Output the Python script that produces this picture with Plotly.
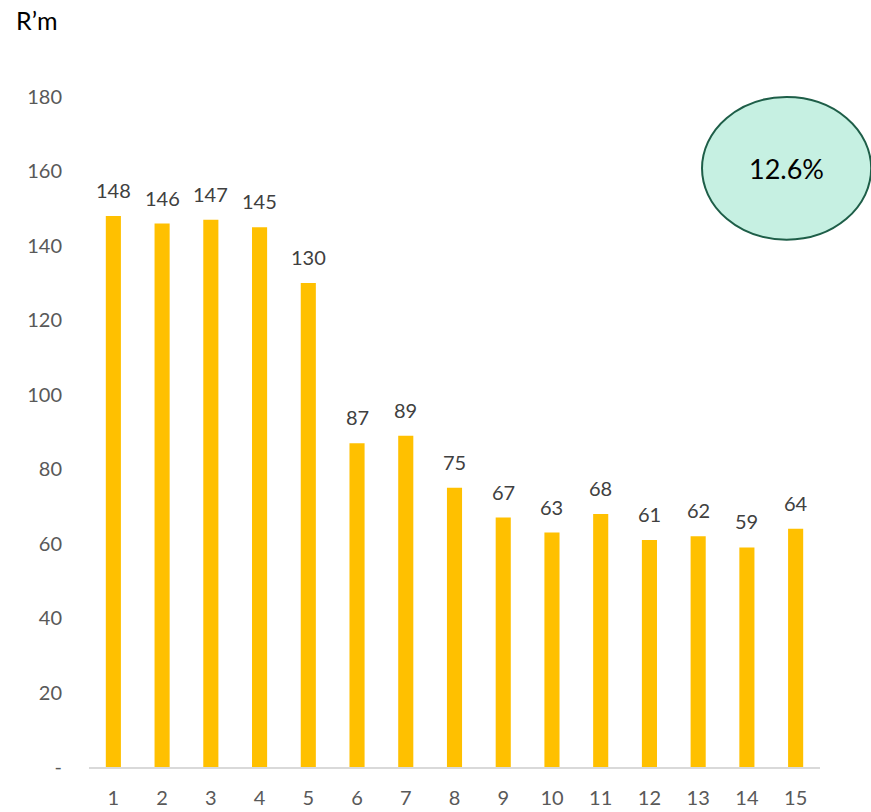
import plotly.graph_objects as go

# Period index and values (R'm)
periods = list(range(1, 16))
values = [148, 146, 147, 145, 130, 87, 89, 75, 67, 63, 68, 61, 62, 59, 64]
y_ticks = [0, 20, 40, 60, 80, 100, 120, 140, 160, 180]
y_tick_text = ["-", "20", "40", "60", "80", "100", "120", "140", "160", "180"]
badge_text = "12.6%"
unit_label = "R\u2019m"

FONT = "Lato, Open Sans, sans-serif"

fig = go.Figure(
    go.Bar(
        x=periods,
        y=values,
        marker=dict(color="#FFC000", line=dict(width=0)),
        width=0.31,
        hoverinfo="x+y",
    )
)

# value labels sitting a little above each bar
value_labels = [
    dict(
        x=p,
        y=v,
        xref="x",
        yref="y",
        text=str(v),
        showarrow=False,
        xanchor="center",
        yanchor="bottom",
        yshift=12,
        font=dict(family=FONT, size=20, color="#404040"),
    )
    for p, v in zip(periods, values)
]

fig.update_layout(
    width=871,
    height=812,
    margin=dict(l=89, r=51, t=97, b=45),
    plot_bgcolor="white",
    paper_bgcolor="white",
    showlegend=False,
    xaxis=dict(
        range=[0.5, 15.5],
        tickmode="array",
        tickvals=periods,
        ticktext=[str(p) for p in periods],
        showgrid=False,
        zeroline=False,
        showline=True,
        linecolor="#D9D9D9",
        linewidth=1.5,
        ticks="",
        ticklabelstandoff=12,
        automargin=False,
        tickfont=dict(family=FONT, size=20, color="#595959"),
    ),
    yaxis=dict(
        range=[0, 180],
        tickmode="array",
        tickvals=y_ticks,
        ticktext=y_tick_text,
        showgrid=False,
        zeroline=False,
        showline=False,
        ticks="",
        ticklabelstandoff=26,
        automargin=False,
        tickfont=dict(family=FONT, size=20, color="#595959"),
    ),
    shapes=[
        dict(
            type="circle",
            xref="paper",
            yref="paper",
            x0=0.8386,
            x1=1.070,
            y0=0.787,
            y1=1.0,
            fillcolor="#C6F0E2",
            line=dict(color="#1E5E48", width=2),
            layer="above",
        )
    ],
    annotations=value_labels
    + [
        dict(
            text=badge_text,
            xref="paper",
            yref="paper",
            x=0.954,
            y=0.894,
            showarrow=False,
            font=dict(family=FONT, size=27, color="#000000"),
            xanchor="center",
            yanchor="middle",
        ),
        dict(
            text=unit_label,
            xref="paper",
            yref="paper",
            x=-0.103,
            y=1.115,
            showarrow=False,
            font=dict(family=FONT, size=25, color="#000000"),
            xanchor="left",
            yanchor="middle",
        ),
    ],
)

fig.write_html("out.html")
